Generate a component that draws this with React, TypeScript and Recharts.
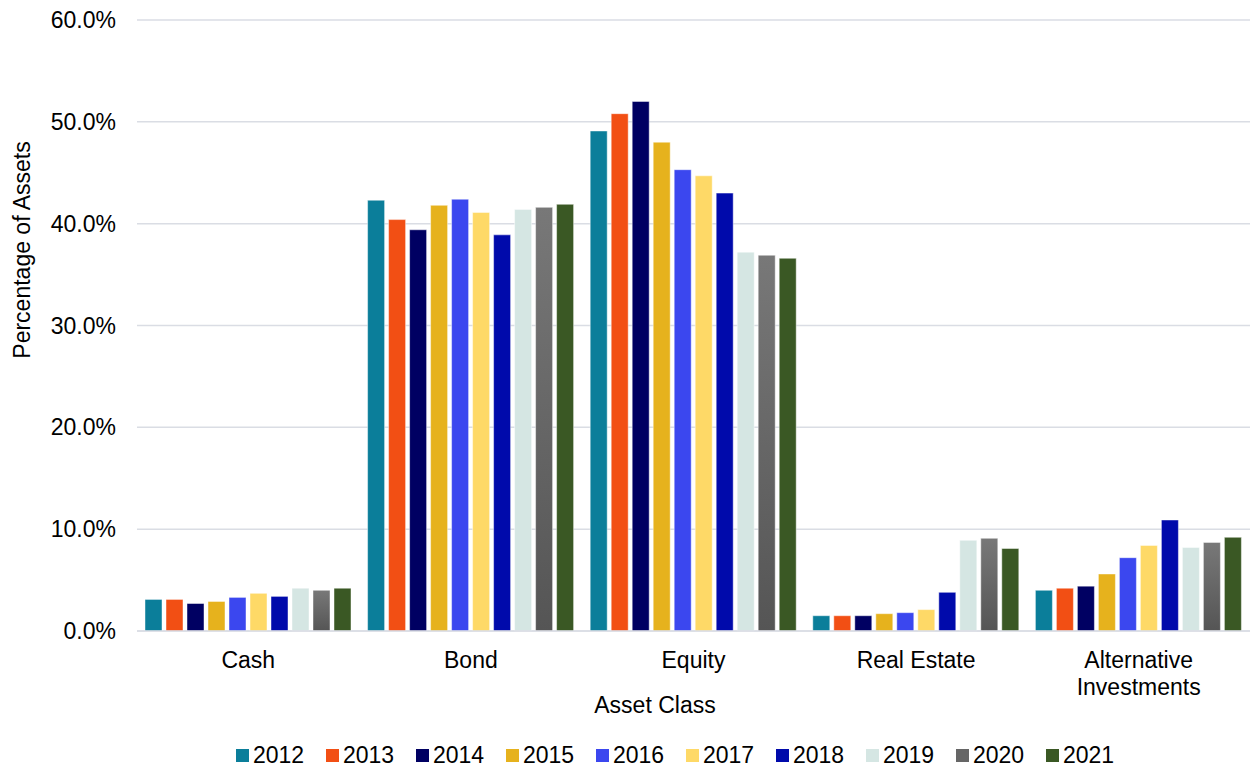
import React from 'react';
import { BarChart, Bar, XAxis, YAxis, CartesianGrid, Legend } from 'recharts';

const categories = ['Cash', 'Bond', 'Equity', 'Real Estate', 'Alternative Investments'];
const years = ['2012', '2013', '2014', '2015', '2016', '2017', '2018', '2019', '2020', '2021'];

const v2012 = [3.1, 42.3, 49.1, 1.5, 4.0];
const v2013 = [3.1, 40.4, 50.8, 1.5, 4.2];
const v2014 = [2.7, 39.4, 52.0, 1.5, 4.4];
const v2015 = [2.9, 41.8, 48.0, 1.7, 5.6];
const v2016 = [3.3, 42.4, 45.3, 1.8, 7.2];
const v2017 = [3.7, 41.1, 44.7, 2.1, 8.4];
const v2018 = [3.4, 38.9, 43.0, 3.8, 10.9];
const v2019 = [4.2, 41.4, 37.2, 8.9, 8.2];
const v2020 = [4.0, 41.6, 36.9, 9.1, 8.7];
const v2021 = [4.2, 41.9, 36.6, 8.1, 9.2];

const yTicks = [0, 10, 20, 30, 40, 50, 60];

const seriesValues = [v2012, v2013, v2014, v2015, v2016, v2017, v2018, v2019, v2020, v2021];
const colors = ['#0B7E9A', '#F24F14', '#000062', '#E6B21D', '#3B47EF', '#FED967', '#000AAB', '#D5E6E3', 'url(#grey2020)', '#3A5824'];
const legendColors = ['#0B7E9A', '#F24F14', '#000062', '#E6B21D', '#3B47EF', '#FED967', '#000AAB', '#D5E6E3', '#666666', '#3A5824'];

const data = categories.map((c, i) => {
  const row: Record<string, string | number> = { name: c };
  years.forEach((y, j) => {
    row[y] = seriesValues[j][i];
  });
  return row;
});

const FONT = '"Liberation Sans", Arial, sans-serif';

const XTick = (props: any) => {
  const { x, y, payload } = props;
  const label: string = payload.value;
  const lines = label === 'Alternative Investments' ? ['Alternative', 'Investments'] : [label];
  return (
    <text x={x} y={y + 37} textAnchor="middle" fontSize={23} fontFamily={FONT} fill="#000">
      {lines.map((l, i) => (
        <tspan key={i} x={x} dy={i === 0 ? 0 : 27}>{l}</tspan>
      ))}
    </text>
  );
};

const LegendContent = () => (
  <div style={{ display: 'flex', alignItems: 'center', height: 30, paddingLeft: 236, fontFamily: FONT, fontSize: 23, color: '#000' }}>
    {years.map((y, i) => (
      <div key={y} style={{ width: 90, display: 'flex', alignItems: 'center', flex: '0 0 auto' }}>
        <span style={{ width: 13, height: 13, background: legendColors[i], marginRight: 4, display: 'inline-block' }} />
        <span>{y}</span>
      </div>
    ))}
  </div>
);

export default function App() {
  return (
    <div style={{ position: 'absolute', left: 0, top: 0, background: '#fff' }}>
      <BarChart
        width={1251}
        height={770}
        data={data}
        margin={{ top: 20, right: 1, left: 0, bottom: 0 }}
        barGap={4}
        barCategoryGap={8}
      >
        <defs>
          <linearGradient id="grey2020" x1="0" y1="0" x2="0" y2="1">
            <stop offset="0%" stopColor="#787878" />
            <stop offset="100%" stopColor="#555555" />
          </linearGradient>
        </defs>
        <CartesianGrid vertical={false} stroke="#DADDE4" strokeWidth={1.5} />
        <XAxis
          dataKey="name"
          height={139}
          tick={<XTick />}
          tickLine={false}
          tickSize={0}
          tickMargin={0}
          axisLine={{ stroke: '#DADDE4', strokeWidth: 1.5 }}
          interval={0}
          label={{
            content: () => (
              <text x={655} y={713} textAnchor="middle" fontSize={23} fontFamily={FONT} fill="#000">
                Asset Class
              </text>
            ),
          }}
        />
        <YAxis
          width={137}
          domain={[0, 60]}
          ticks={yTicks}
          tickFormatter={(v: number) => v.toFixed(1) + '%'}
          tick={{ fontSize: 23, fontFamily: FONT, fill: '#000' }}
          tickLine={false}
          tickSize={0}
          tickMargin={21}
          axisLine={false}
          label={{
            content: () => (
              <text
                x={22}
                y={250}
                transform="rotate(-90 22 250)"
                textAnchor="middle"
                dy="0.35em"
                fontSize={23}
                fontFamily={FONT}
                fill="#000"
              >
                Percentage of Assets
              </text>
            ),
          }}
        />
        <Legend
          verticalAlign="middle"
          align="center"
          layout="horizontal"
          content={<LegendContent />}
          wrapperStyle={{ top: 740, left: 0, width: 1251, height: 30 }}
        />
        {years.map((y, i) => (
          <Bar
            key={y}
            dataKey={y}
            fill={colors[i]}
            stroke="#ffffff"
            strokeOpacity={0.45}
            strokeWidth={1}
            isAnimationActive={false}
          />
        ))}
      </BarChart>
    </div>
  );
}
